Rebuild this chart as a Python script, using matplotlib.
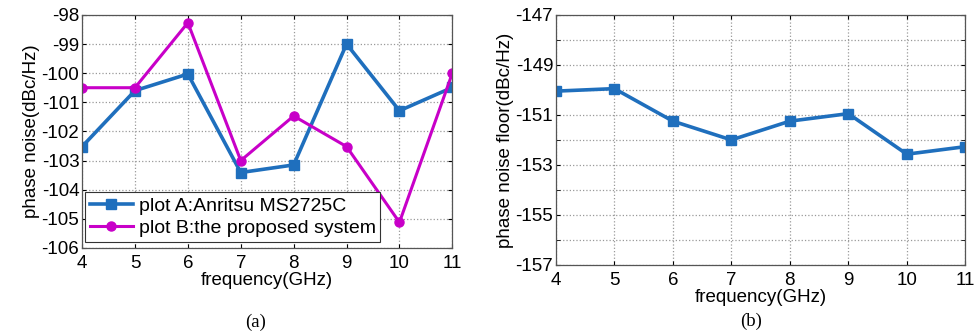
import matplotlib
matplotlib.use("Agg")
import matplotlib.pyplot as plt
from matplotlib.ticker import MultipleLocator, FixedLocator

plt.rcParams["font.family"] = ["Liberation Sans", "DejaVu Sans"]
plt.rcParams["axes.unicode_minus"] = False

freq = [4, 5, 6, 7, 8, 9, 10, 11]
plot_a = [-102.52, -100.6, -100.03, -103.41, -103.15, -99.0, -101.29, -100.49]
plot_b = [-100.5, -100.5, -98.27, -103.0, -101.47, -102.52, -105.12, -100.0]
floor_vals = [-150.05, -149.95, -151.25, -152.0, -151.25, -150.95, -152.57, -152.27]
floor_ticks = [-157, -155, -153, -151, -149, -147]

label_a = "plot A:Anritsu MS2725C"
label_b = "plot B:the proposed system"

blue = "#1f6fbd"
magenta = "#c800c8"
fs = 13.5

fig = plt.figure(figsize=(9.77, 3.34), dpi=100)
ax1 = fig.add_axes([0.084, 0.2575, 0.379, 0.698])
ax2 = fig.add_axes([0.569, 0.2066, 0.419, 0.749])

def style(ax):
    ax.tick_params(direction="in", which="both", top=True, right=True, labelsize=fs, length=3)
    ax.tick_params(axis="x", pad=5)
    ax.tick_params(axis="y", pad=2)
    ax.grid(True, which="both", linestyle=":", color="#999999", linewidth=0.9)
    for s in ax.spines.values():
        s.set_color("#555555")
        s.set_linewidth(0.9)

ax1.plot(freq, plot_a, "-s", color=blue, lw=2.6, ms=6.5, label=label_a)
ax1.plot(freq, plot_b, "-o", color=magenta, lw=2.2, ms=6.5, label=label_b)
ax1.set_xlim(4, 11)
ax1.set_ylim(-106, -98)
ax1.set_xticks(freq)
ax1.yaxis.set_major_locator(MultipleLocator(1))
style(ax1)
ax1.set_xlabel("frequency(GHz)", fontsize=fs, labelpad=0)
ax1.set_ylabel("phase noise(dBc/Hz)", fontsize=fs, labelpad=1)
leg = ax1.legend(loc="lower left", bbox_to_anchor=(0.008, 0.026), fontsize=14,
                 fancybox=False, framealpha=1, edgecolor="#333333",
                 borderpad=0.25, handlelength=2.2, handletextpad=0.3, labelspacing=0.25,
                 borderaxespad=0)
leg.get_frame().set_linewidth(0.8)
fig.text(256 / 977, 1 - 322 / 334, "(a)", ha="center", va="center",
         fontsize=fs, family=["Liberation Serif", "DejaVu Serif"])

ax2.plot(freq, floor_vals, "-s", color=blue, lw=2.6, ms=6.5)
ax2.set_xlim(4, 11)
ax2.set_ylim(-157, -147)
ax2.set_xticks(freq)
ax2.yaxis.set_major_locator(FixedLocator(floor_ticks))
ax2.yaxis.set_minor_locator(MultipleLocator(1))
style(ax2)
ax2.set_xlabel("frequency(GHz)", fontsize=fs, labelpad=0)
ax2.set_ylabel("phase noise floor(dBc/Hz)", fontsize=fs, labelpad=1)
fig.text(751 / 977, 1 - 321 / 334, "(b)", ha="center", va="center",
         fontsize=fs, family=["Liberation Serif", "DejaVu Serif"])

fig.savefig("out.png", dpi=100)
